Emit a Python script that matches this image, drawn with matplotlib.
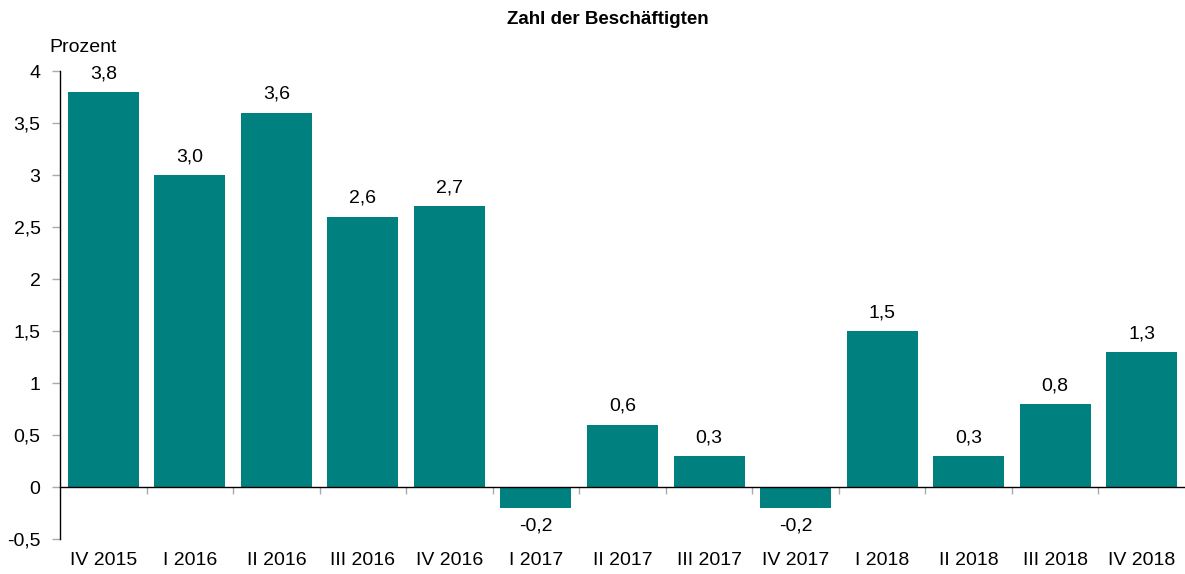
import numpy as np
import matplotlib.pyplot as plt
from matplotlib.ticker import FixedLocator, FuncFormatter

plt.rcParams['font.family'] = ['Liberation Sans', 'DejaVu Sans']
plt.rcParams['axes.unicode_minus'] = False

quarters = ['IV 2015', 'I 2016', 'II 2016', 'III 2016', 'IV 2016', 'I 2017', 'II 2017',
            'III 2017', 'IV 2017', 'I 2018', 'II 2018', 'III 2018', 'IV 2018']
values = [3.8, 3.0, 3.6, 2.6, 2.7, -0.2, 0.6, 0.3, -0.2, 1.5, 0.3, 0.8, 1.3]

teal = '#00807F'
fs = 14
fig = plt.figure(figsize=(11.85, 5.74), dpi=100)
ax = fig.add_axes([60 / 1185, 1 - 539 / 574, 1 - 60 / 1185, (539 - 71) / 574])

x = np.arange(len(values))
ax.bar(x, values, width=0.82, color=teal)
ax.set_xlim(-0.5, len(values) - 0.5)
ax.set_ylim(-0.5, 4)

for xi, v in zip(x, values):
    lab = f'{v:.1f}'.replace('.', ',')
    off = 7 if v >= 0 else -7
    ax.annotate(lab, (xi, v), xytext=(0, off), textcoords='offset points',
                ha='center', va='bottom' if v >= 0 else 'top', fontsize=fs)

# y axis
ax.set_yticks(np.arange(-0.5, 4.01, 0.5))
ax.yaxis.set_major_formatter(FuncFormatter(
    lambda v, p: ('%g' % v).replace('.', ',')))
ax.tick_params(axis='y', length=6, color='#aaaaaa', width=1, labelsize=fs, pad=8)

# x axis line at zero
for s in ['top', 'right']:
    ax.spines[s].set_visible(False)
ax.spines['bottom'].set_position(('data', 0))
ax.spines['left'].set_linewidth(1)
ax.spines['bottom'].set_linewidth(1)
ax.set_xticks(x)
ax.set_xticklabels(quarters)
ax.xaxis.set_minor_locator(FixedLocator(np.arange(0.5, len(values) - 0.5, 1)))
ax.tick_params(axis='x', which='major', length=0, labelsize=fs, pad=47)
ax.tick_params(axis='x', which='minor', length=5, color='#aaaaaa', width=1)

fig.text(83 / 1185, 1 - 47 / 574, 'Prozent', ha='center', va='center', fontsize=fs)
fig.text(608 / 1185, 1 - 20 / 574, 'Zahl der Beschäftigten', ha='center', va='center',
         fontsize=13.5, fontweight='bold')

fig.savefig('out.png', dpi=100)
